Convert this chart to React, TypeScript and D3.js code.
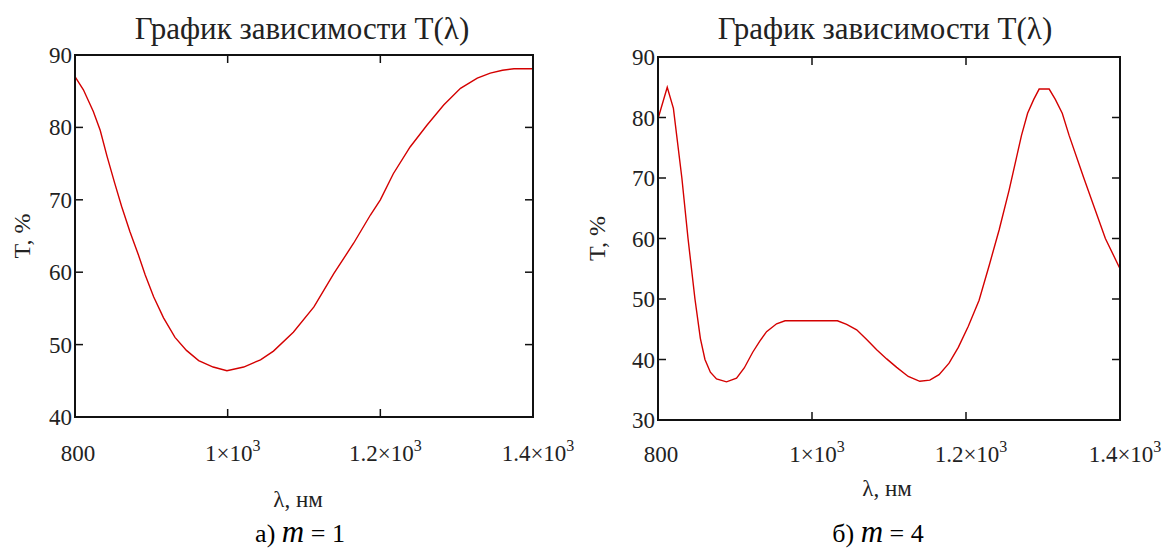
import React from "react";
import * as d3 from "d3";

// m = 1
const lambda1 = [800, 811, 824, 833, 842, 852, 861, 872, 883, 892, 903, 916, 931, 946, 962, 981, 999, 1021, 1043, 1060, 1086, 1113, 1139, 1165, 1187, 1200, 1217, 1239, 1261, 1283, 1305, 1327, 1344, 1360, 1375, 1390, 1400];
const T1 = [87.0, 85.2, 82.2, 79.6, 76.0, 72.3, 69.1, 65.6, 62.4, 59.6, 56.6, 53.7, 51.0, 49.2, 47.8, 46.9, 46.4, 46.9, 47.9, 49.1, 51.7, 55.2, 59.8, 64.0, 67.9, 70.0, 73.6, 77.3, 80.3, 83.1, 85.4, 86.8, 87.5, 87.9, 88.1, 88.1, 88.1];

// m = 4
const lambda2 = [800, 812, 820, 831, 839, 848, 855, 861, 868, 876, 889, 902, 912, 923, 932, 941, 954, 965, 1000, 1033, 1045, 1058, 1071, 1084, 1097, 1110, 1125, 1140, 1153, 1165, 1178, 1190, 1203, 1217, 1230, 1243, 1256, 1272, 1280, 1288, 1295, 1308, 1316, 1325, 1334, 1353, 1367, 1381, 1400];
const T2 = [79.8, 85.0, 81.5, 70.0, 60.0, 50.0, 43.5, 40.0, 37.9, 36.8, 36.3, 36.9, 38.6, 41.2, 43.0, 44.6, 45.9, 46.4, 46.4, 46.4, 45.8, 44.9, 43.3, 41.6, 40.1, 38.7, 37.2, 36.4, 36.6, 37.5, 39.4, 42.0, 45.5, 49.8, 55.5, 61.4, 68.0, 77.0, 80.7, 83.0, 84.7, 84.7, 83.0, 80.7, 77.0, 70.0, 65.0, 60.0, 55.0];

const xTicks = [800, 1000, 1200, 1400];
const xTickMant = ["800", "1×10", "1.2×10", "1.4×10"];
const yTicks1 = [40, 50, 60, 70, 80, 90];
const yTicks2 = [30, 40, 50, 60, 70, 80, 90];

const TITLE = "График зависимости T(λ)";
const YLABEL = "T, %";
const XLABEL = "λ, нм";

const FONT = "Liberation Serif";
const TXT = "#222";

type PanelProps = {
  box: { left: number; top: number; right: number; bottom: number };
  xs: number[];
  ys: number[];
  yTicks: number[];
  titleX: number;
  yLabelX: number;
  xLabelX: number;
  xLabelY: number;
  tickLabelY: number;
  capPrefix: string;
  capValue: string;
  capX: number;
};

function Panel(p: PanelProps) {
  const { box } = p;
  const x = d3.scaleLinear().domain([800, 1400]).range([box.left, box.right]);
  const y = d3
    .scaleLinear()
    .domain([p.yTicks[0], p.yTicks[p.yTicks.length - 1]])
    .range([box.bottom, box.top]);

  const line = d3
    .line<number>()
    .x((d, i) => x(p.xs[i]))
    .y((d) => y(d))
    .curve(d3.curveLinear);

  const tk = 8;
  const midY = (box.top + box.bottom) / 2;

  return (
    <g>
      <text x={p.titleX} y={39} fontSize={31} fontFamily={FONT} fill={TXT} textAnchor="middle">
        {TITLE}
      </text>

      {/* inner ticks */}
      {xTicks.slice(1, -1).map((t) => (
        <g key={"xt" + t} stroke="#111" strokeWidth={1.5}>
          <line x1={x(t)} x2={x(t)} y1={box.top} y2={box.top + tk} />
          <line x1={x(t)} x2={x(t)} y1={box.bottom} y2={box.bottom - tk} />
        </g>
      ))}
      {p.yTicks.slice(1, -1).map((t) => (
        <g key={"yt" + t} stroke="#111" strokeWidth={1.5}>
          <line x1={box.left} x2={box.left + tk} y1={y(t)} y2={y(t)} />
          <line x1={box.right} x2={box.right - tk} y1={y(t)} y2={y(t)} />
        </g>
      ))}

      <path d={line(p.ys) || ""} fill="none" stroke="#d40000" strokeWidth={1.4} />

      <rect
        x={box.left}
        y={box.top}
        width={box.right - box.left}
        height={box.bottom - box.top}
        fill="none"
        stroke="#111"
        strokeWidth={2}
      />

      {/* y tick labels */}
      {p.yTicks.map((t) => (
        <text key={"yl" + t} x={box.left - 3} y={y(t) + 8} fontSize={23} fontFamily={FONT} fill={TXT} textAnchor="end">
          {t}
        </text>
      ))}

      {/* x tick labels */}
      {xTicks.map((t, i) => (
        <text key={"xl" + t} x={x(t) + (i === 0 ? 3 : 5)} y={p.tickLabelY} fontSize={23} fontFamily={FONT} fill={TXT} textAnchor="middle">
          <tspan>{xTickMant[i]}</tspan>
          {i > 0 && (
            <tspan dy={-10} fontSize={16}>
              3
            </tspan>
          )}
        </text>
      ))}

      <text
        transform={`translate(${p.yLabelX},${midY}) rotate(-90)`}
        fontSize={24}
        fontFamily={FONT}
        fill={TXT}
        textAnchor="middle"
      >
        {YLABEL}
      </text>

      <text x={p.xLabelX} y={p.xLabelY} fontSize={23} fontFamily={FONT} fill={TXT} textAnchor="middle">
        {XLABEL}
      </text>

      <text x={p.capX} y={542} fontSize={26} fontFamily={FONT} textAnchor="middle" fill="#000">
        <tspan>{p.capPrefix} </tspan>
        <tspan fontStyle="italic" fontSize={31}>m</tspan>
        <tspan> = {p.capValue}</tspan>
      </text>
    </g>
  );
}

export default function App() {
  return (
    <div style={{ position: "absolute", left: 0, top: 0 }}>
      <svg width={1169} height={550} style={{ display: "block", background: "#fff" }}>
        <Panel
          box={{ left: 75, top: 55, right: 533, bottom: 417 }}
          xs={lambda1}
          ys={T1}
          yTicks={yTicks1}
          titleX={302}
          yLabelX={30}
          xLabelX={298}
          xLabelY={507}
          tickLabelY={461}
          capPrefix="а)"
          capValue="1"
          capX={300}
        />
        <Panel
          box={{ left: 658, top: 57, right: 1120, bottom: 420 }}
          xs={lambda2}
          ys={T2}
          yTicks={yTicks2}
          titleX={885}
          yLabelX={605}
          xLabelX={887}
          xLabelY={496}
          tickLabelY={462}
          capPrefix="б)"
          capValue="4"
          capX={878}
        />
      </svg>
    </div>
  );
}
